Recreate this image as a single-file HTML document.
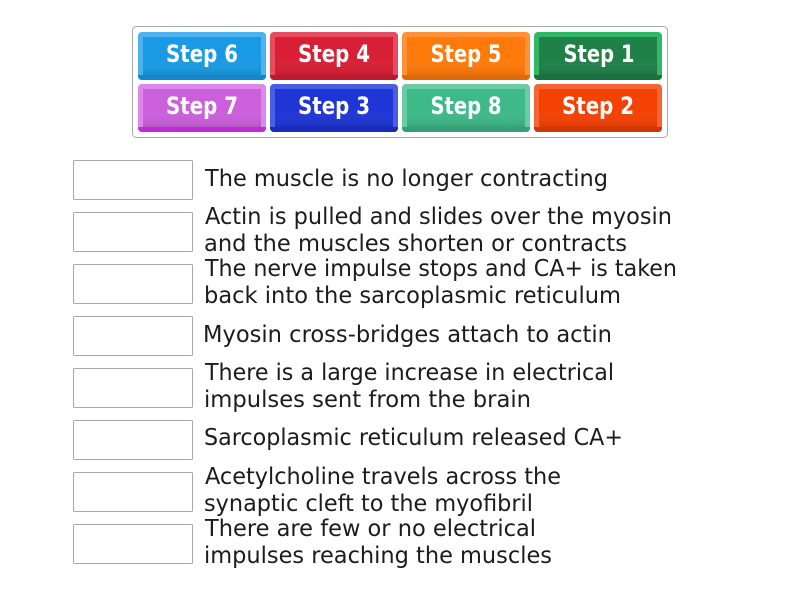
<!DOCTYPE html>
<html>
<head>
<meta charset="utf-8">
<style>
html,body{margin:0;padding:0;width:800px;height:600px;background:#fff;overflow:hidden}
svg{display:block}
text{font-family:"DejaVu Sans","Liberation Sans",sans-serif}
.t{font-size:23.5px;fill:#1c1c1c}
.b{font-size:24px;fill:#fff;font-weight:bold;text-anchor:middle}
</style>
</head>
<body>
<svg width="800" height="600" viewBox="0 0 800 600" xmlns="http://www.w3.org/2000/svg">
<defs>
<linearGradient id="sh" x1="0" y1="0" x2="0" y2="1">
<stop offset="0" stop-color="#fff" stop-opacity="0"/>
<stop offset="0.55" stop-color="#fff" stop-opacity="0"/>
<stop offset="1" stop-color="#000" stop-opacity="0.1"/>
</linearGradient>
<clipPath id="bot"><rect x="0" y="43" width="128" height="5"/></clipPath>
</defs>
<rect x="132.5" y="26.5" width="535" height="111" rx="4" fill="#fff" stroke="#a8a8a8"/>

<g transform="translate(138,32)"><rect width="128" height="48" rx="4" fill="#4db3ee"/><rect width="128" height="48" rx="4" fill="#1287cd" clip-path="url(#bot)"/><rect x="5" y="5" width="118" height="38" fill="#1a9ae4"/><rect x="5" y="5" width="118" height="38" fill="url(#sh)"/></g>
<g transform="translate(270,32)"><rect width="128" height="48" rx="4" fill="#e54c60"/><rect width="128" height="48" rx="4" fill="#bb1a2e" clip-path="url(#bot)"/><rect x="5" y="5" width="118" height="38" fill="#d91f36"/><rect x="5" y="5" width="118" height="38" fill="url(#sh)"/></g>
<g transform="translate(402,32)"><rect width="128" height="48" rx="4" fill="#ff9238"/><rect width="128" height="48" rx="4" fill="#e06a05" clip-path="url(#bot)"/><rect x="5" y="5" width="118" height="38" fill="#ff7a0a"/><rect x="5" y="5" width="118" height="38" fill="url(#sh)"/></g>
<g transform="translate(534,32)"><rect width="128" height="48" rx="4" fill="#31b866"/><rect width="128" height="48" rx="4" fill="#1b7040" clip-path="url(#bot)"/><rect x="5" y="5" width="118" height="38" fill="#1f8048"/><rect x="5" y="5" width="118" height="38" fill="url(#sh)"/></g>
<g transform="translate(138,84)"><rect width="128" height="48" rx="4" fill="#dc87e9"/><rect width="128" height="48" rx="4" fill="#bf2bd6" clip-path="url(#bot)"/><rect x="5" y="5" width="118" height="38" fill="#cb5fdc"/><rect x="5" y="5" width="118" height="38" fill="url(#sh)"/></g>
<g transform="translate(270,84)"><rect width="128" height="48" rx="4" fill="#4a5ee3"/><rect width="128" height="48" rx="4" fill="#1a2cb5" clip-path="url(#bot)"/><rect x="5" y="5" width="118" height="38" fill="#1f35d6"/><rect x="5" y="5" width="118" height="38" fill="url(#sh)"/></g>
<g transform="translate(402,84)"><rect width="128" height="48" rx="4" fill="#6acba5"/><rect width="128" height="48" rx="4" fill="#35a077" clip-path="url(#bot)"/><rect x="5" y="5" width="118" height="38" fill="#3eb989"/><rect x="5" y="5" width="118" height="38" fill="url(#sh)"/></g>
<g transform="translate(534,84)"><rect width="128" height="48" rx="4" fill="#f86535"/><rect width="128" height="48" rx="4" fill="#cf3703" clip-path="url(#bot)"/><rect x="5" y="5" width="118" height="38" fill="#f44104"/><rect x="5" y="5" width="118" height="38" fill="url(#sh)"/></g>

<text class="b" x="202" y="62" textLength="72" lengthAdjust="spacingAndGlyphs">Step 6</text>
<text class="b" x="334" y="62" textLength="72" lengthAdjust="spacingAndGlyphs">Step 4</text>
<text class="b" x="466" y="62" textLength="71" lengthAdjust="spacingAndGlyphs">Step 5</text>
<text class="b" x="599" y="62" textLength="71" lengthAdjust="spacingAndGlyphs">Step 1</text>
<text class="b" x="202" y="114" textLength="72" lengthAdjust="spacingAndGlyphs">Step 7</text>
<text class="b" x="334" y="114" textLength="72" lengthAdjust="spacingAndGlyphs">Step 3</text>
<text class="b" x="466" y="114" textLength="71" lengthAdjust="spacingAndGlyphs">Step 8</text>
<text class="b" x="598" y="114" textLength="72" lengthAdjust="spacingAndGlyphs">Step 2</text>

<g fill="#fff" stroke="#a8a8a8">
<rect x="73.5" y="160.5" width="119" height="39" rx="1"/>
<rect x="73.5" y="212.5" width="119" height="39" rx="1"/>
<rect x="73.5" y="264.5" width="119" height="39" rx="1"/>
<rect x="73.5" y="316.5" width="119" height="39" rx="1"/>
<rect x="73.5" y="368.5" width="119" height="39" rx="1"/>
<rect x="73.5" y="420.5" width="119" height="39" rx="1"/>
<rect x="73.5" y="472.5" width="119" height="39" rx="1"/>
<rect x="73.5" y="524.5" width="119" height="39" rx="1"/>
</g>

<text class="t" x="205" y="186" textLength="403" lengthAdjust="spacingAndGlyphs">The muscle is no longer contracting</text>
<text class="t" x="205" y="224" textLength="467" lengthAdjust="spacingAndGlyphs">Actin is pulled and slides over the myosin</text>
<text class="t" x="204" y="251" textLength="423" lengthAdjust="spacingAndGlyphs">and the muscles shorten or contracts</text>
<text class="t" x="205" y="276" textLength="472" lengthAdjust="spacingAndGlyphs">The nerve impulse stops and CA+ is taken</text>
<text class="t" x="204" y="303" textLength="417" lengthAdjust="spacingAndGlyphs">back into the sarcoplasmic reticulum</text>
<text class="t" x="203" y="342" textLength="409" lengthAdjust="spacingAndGlyphs">Myosin cross-bridges attach to actin</text>
<text class="t" x="205" y="380" textLength="409" lengthAdjust="spacingAndGlyphs">There is a large increase in electrical</text>
<text class="t" x="204" y="407" textLength="327" lengthAdjust="spacingAndGlyphs">impulses sent from the brain</text>
<text class="t" x="204" y="445" textLength="419" lengthAdjust="spacingAndGlyphs">Sarcoplasmic reticulum released CA+</text>
<text class="t" x="205" y="484" textLength="356" lengthAdjust="spacingAndGlyphs">Acetylcholine travels across the</text>
<text class="t" x="204" y="511" textLength="329" lengthAdjust="spacingAndGlyphs">synaptic cleft to the myofibril</text>
<text class="t" x="205" y="536" textLength="331" lengthAdjust="spacingAndGlyphs">There are few or no electrical</text>
<text class="t" x="204" y="563" textLength="348" lengthAdjust="spacingAndGlyphs">impulses reaching the muscles</text>
</svg>
</body>
</html>
